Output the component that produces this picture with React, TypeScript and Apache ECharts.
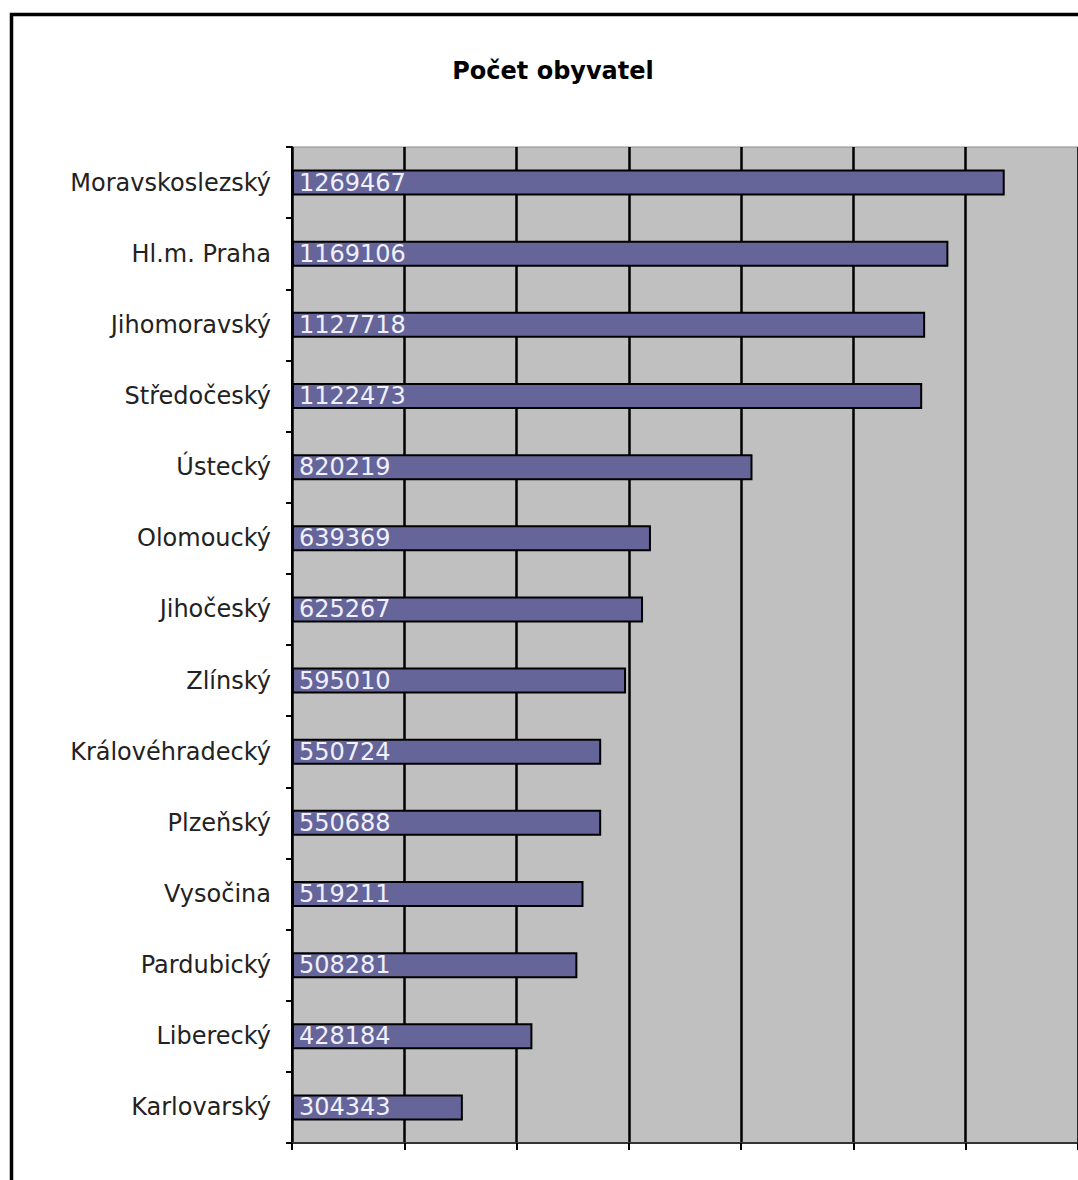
import React, { useEffect, useRef } from "react";
import * as echarts from "echarts";

const categories = [
  "Moravskoslezský",
  "Hl.m. Praha",
  "Jihomoravský",
  "Středočeský",
  "Ústecký",
  "Olomoucký",
  "Jihočeský",
  "Zlínský",
  "Královéhradecký",
  "Plzeňský",
  "Vysočina",
  "Pardubický",
  "Liberecký",
  "Karlovarský",
];

const population = [
  1269467, 1169106, 1127718, 1122473, 820219, 639369, 625267, 595010, 550724,
  550688, 519211, 508281, 428184, 304343,
];

const titleText = "Počet obyvatel";

export default function App() {
  const ref = useRef<HTMLDivElement>(null);

  useEffect(() => {
    document.body.style.margin = "0";
    const chart = echarts.init(ref.current!, undefined, { renderer: "svg" });
    const font = "'DejaVu Sans', Verdana, sans-serif";
    chart.setOption({
      animation: false,
      backgroundColor: "#ffffff",
      title: {
        text: titleText,
        left: 548,
        top: 54,
        textAlign: "center",
        textStyle: {
          fontFamily: font,
          fontSize: 24,
          fontWeight: "bold",
          color: "#000000",
        },
      },
      graphic: [
        {
          type: "rect",
          shape: { x: 11.5, y: 14.5, width: 1200, height: 1300 },
          style: { fill: "none", stroke: "#000000", lineWidth: 3.5 },
          z: 100,
        },
      ],
      grid: {
        left: 292,
        top: 147,
        width: 790,
        bottom: 37,
        show: true,
        backgroundColor: "#c0c0c0",
        borderColor: "#8a8a8a",
        borderWidth: 1,
      },
      xAxis: {
        type: "value",
        min: 0,
        max: 1400000,
        interval: 200000,
        axisLabel: { show: false },
        axisLine: { show: true, lineStyle: { color: "#333333", width: 2 } },
        axisTick: {
          show: true,
          length: 7,
          lineStyle: { color: "#000000", width: 2 },
        },
        splitLine: { show: true, lineStyle: { color: "#000000", width: 2.5 } },
      },
      yAxis: {
        type: "category",
        data: categories,
        inverse: true,
        axisLine: { show: true, lineStyle: { color: "#000000", width: 2 } },
        axisTick: {
          show: true,
          length: 6,
          inside: false,
          lineStyle: { color: "#000000", width: 2 },
        },
        axisLabel: {
          margin: 21,
          fontFamily: font,
          fontSize: 24,
          color: "#222222",
        },
        splitLine: { show: false },
      },
      series: [
        {
          type: "bar",
          data: population,
          barWidth: 26,
          itemStyle: {
            color: "#65659a",
            borderColor: "#000000",
            borderWidth: 2,
          },
          label: {
            show: true,
            position: "insideLeft",
            distance: 7,
            fontFamily: font,
            fontSize: 24,
            color: "#f0f0ff",
          },
        },
      ],
    });
    return () => chart.dispose();
  }, []);

  return <div ref={ref} style={{ width: 1078, height: 1180 }} />;
}
